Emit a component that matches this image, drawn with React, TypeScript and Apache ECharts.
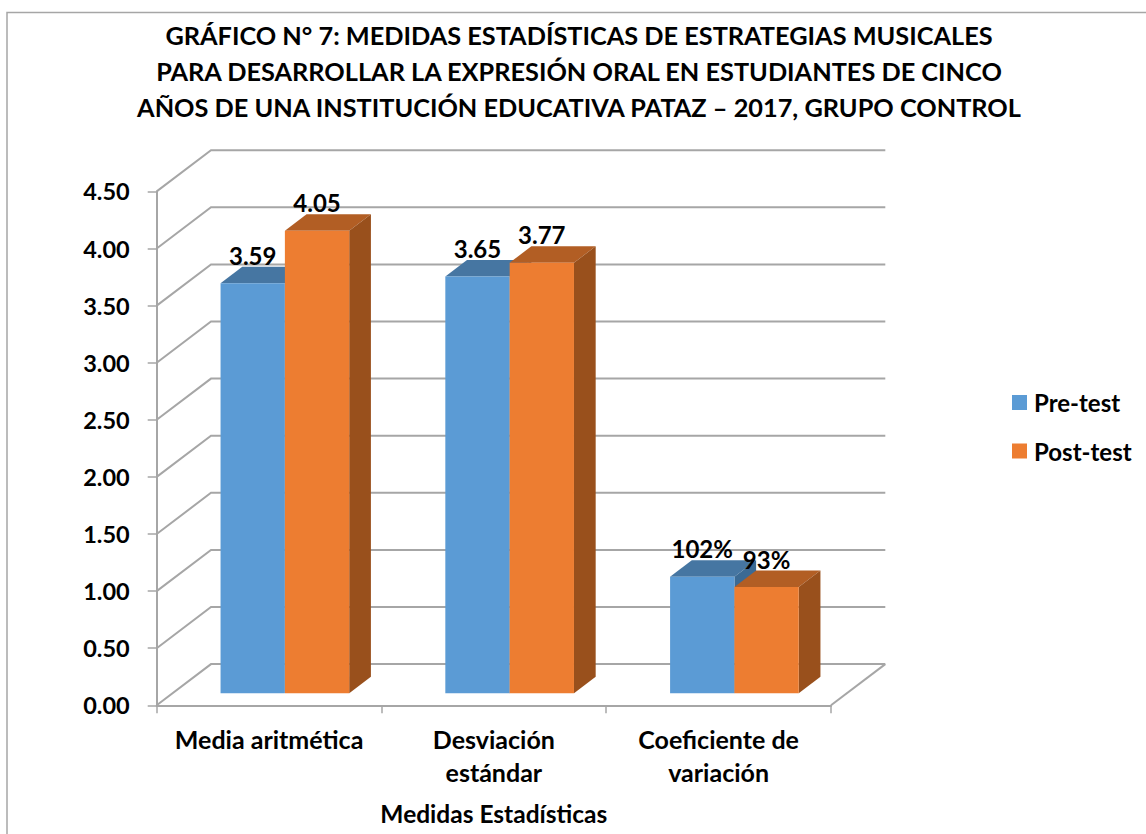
import React, { useEffect, useRef } from "react";
import * as echarts from "echarts";

const titleText =
  "GRÁFICO N° 7: MEDIDAS ESTADÍSTICAS DE ESTRATEGIAS MUSICALES\nPARA DESARROLLAR LA EXPRESIÓN ORAL EN ESTUDIANTES DE CINCO\nAÑOS DE UNA INSTITUCIÓN EDUCATIVA PATAZ – 2017, GRUPO CONTROL";
const categories = ["Media aritmética", "Desviación\nestándar", "Coeficiente de\nvariación"];
const preTest = [3.59, 3.65, 1.02];
const postTest = [4.05, 3.77, 0.93];
const preLabels = ["3.59", "3.65", "102%"];
const postLabels = ["4.05", "3.77", "93%"];
const wallTicks = [0, 0.5, 1, 1.5, 2, 2.5, 3, 3.5, 4, 4.5];

const FONT = "Lato";
const GRID_COLOR = "#a6a6a6";
const WALL_DX = 54.3;
const WALL_DY = -41.2;
const BAR_FRONT_DX = 15.8;
const BAR_FRONT_DY = -12;
const BAR_DX = 21.7;
const BAR_DY = -16.5;
const BAR_BAND = 0.2862;

function barSeries(name: string, values: number[], labels: string[], offsetIdx: number, front: string, top: string, side: string) {
  return {
    name,
    type: "custom",
    z: 3,
    silent: true,
    clip: false,
    itemStyle: { color: front },
    data: values.map((v, i) => [i, v]),
    encode: { x: 0, y: 1 },
    renderItem: (params: any, api: any) => {
      const i = api.value(0);
      const base = api.coord([i, 0]);
      const tip = api.coord([i, api.value(1)]);
      const w = api.size([1, 0])[0] * BAR_BAND;
      const x0 = base[0] - w + offsetIdx * w + BAR_FRONT_DX;
      const x1 = x0 + w;
      const yb = base[1] + BAR_FRONT_DY;
      const yt = tip[1] + BAR_FRONT_DY;
      return {
        type: "group",
        children: [
          {
            type: "polygon",
            shape: { points: [[x0, yt], [x0 + BAR_DX, yt + BAR_DY], [x1 + BAR_DX, yt + BAR_DY], [x1, yt]] },
            style: { fill: top },
          },
          {
            type: "polygon",
            shape: { points: [[x1, yt], [x1 + BAR_DX, yt + BAR_DY], [x1 + BAR_DX, yb + BAR_DY], [x1, yb]] },
            style: { fill: side },
          },
          { type: "rect", shape: { x: x0, y: yt, width: w, height: yb - yt }, style: { fill: front } },
          {
            type: "text",
            z2: 20,
            style: {
              x: (x0 + x1) / 2,
              y: yt - 28,
              text: labels[params.dataIndex],
              fill: "#000",
              font: `bold 24px ${FONT}`,
              align: "center",
              verticalAlign: "middle",
            },
          },
        ],
      };
    },
  };
}

export default function App() {
  const ref = useRef<HTMLDivElement>(null);
  useEffect(() => {
    document.body.style.margin = "0";
    const chart = echarts.init(ref.current!, null, { renderer: "svg" });
    chart.setOption({
      animation: false,
      backgroundColor: "#fff",
      title: {
        text: titleText,
        left: 579,
        top: 16.5,
        padding: 0,
        textAlign: "center",
        textStyle: { fontFamily: FONT, fontWeight: "bold", fontSize: 25.3, lineHeight: 36, color: "#000" },
      },
      legend: {
        orient: "vertical",
        left: 1012,
        top: 390.5,
        padding: 0,
        itemWidth: 15,
        itemHeight: 15,
        itemGap: 24.5,
        data: [
          { name: "Pre-test", icon: "rect" },
          { name: "Post-test", icon: "rect" },
        ],
        textStyle: { fontFamily: FONT, fontWeight: "bold", fontSize: 24, color: "#000", padding: [0, 0, 0, 2], lineHeight: 24 },
      },
      graphic: [
        {
          type: "polyline",
          silent: true,
          shape: { points: [[7, 834], [7, 12.5], [1146, 12.5]] },
          style: { stroke: GRID_COLOR, lineWidth: 1.5, fill: "none" },
        },
      ],
      grid: { left: 156.7, right: 315, top: 191.4, bottom: 128.7, containLabel: false, outerBoundsMode: "none" },
      xAxis: {
        type: "category",
        data: categories,
        name: "Medidas Estadísticas",
        nameLocation: "middle",
        nameGap: 96,
        nameTextStyle: { fontFamily: FONT, fontWeight: "bold", fontSize: 24.5, color: "#000" },
        axisLine: { show: true, lineStyle: { color: GRID_COLOR, width: 2 } },
        axisTick: { show: true, length: 8, lineStyle: { color: GRID_COLOR, width: 1.5 } },
        axisLabel: {
          interval: 0,
          margin: 17,
          fontFamily: FONT,
          fontWeight: "bold",
          fontSize: 25,
          lineHeight: 33,
          color: "#000",
          verticalAlign: "top",
        },
        splitLine: { show: false },
      },
      yAxis: {
        type: "value",
        min: 0,
        max: 4.5,
        interval: 0.5,
        axisLine: { show: true, lineStyle: { color: GRID_COLOR, width: 2 } },
        axisTick: { show: true, length: 9, lineStyle: { color: GRID_COLOR, width: 1.5 } },
        axisLabel: {
          margin: 27,
          fontFamily: FONT,
          fontWeight: "bold",
          fontSize: 23.5,
          color: "#000",
          formatter: (v: number) => v.toFixed(2),
        },
        splitLine: { show: false },
      },
      series: [
        {
          name: "Paredes",
          type: "custom",
          z: 1,
          silent: true,
          clip: false,
          data: wallTicks.map((v) => [0, v]),
          encode: { x: 0, y: 1 },
          renderItem: (params: any, api: any) => {
            const y = api.coord([0, api.value(1)])[1];
            const left = params.coordSys.x;
            const right = left + params.coordSys.width;
            const lineStyle = { stroke: GRID_COLOR, lineWidth: 2, fill: "none" };
            const children: any[] = [
              {
                type: "polyline",
                shape: { points: [[left, y], [left + WALL_DX, y + WALL_DY], [right + WALL_DX, y + WALL_DY]] },
                style: lineStyle,
              },
            ];
            if (api.value(1) === 0) {
              children.push({
                type: "line",
                shape: { x1: right, y1: y, x2: right + WALL_DX, y2: y + WALL_DY },
                style: lineStyle,
              });
            }
            return { type: "group", children };
          },
        },
        barSeries("Pre-test", preTest, preLabels, 0, "#5b9bd5", "#4676a2", "#3b6a94"),
        barSeries("Post-test", postTest, postLabels, 1, "#ed7d31", "#b25e24", "#99501c"),
      ],
    });
    return () => chart.dispose();
  }, []);
  return <div ref={ref} style={{ position: "fixed", left: 0, top: 0, width: 1146, height: 834 }} />;
}
